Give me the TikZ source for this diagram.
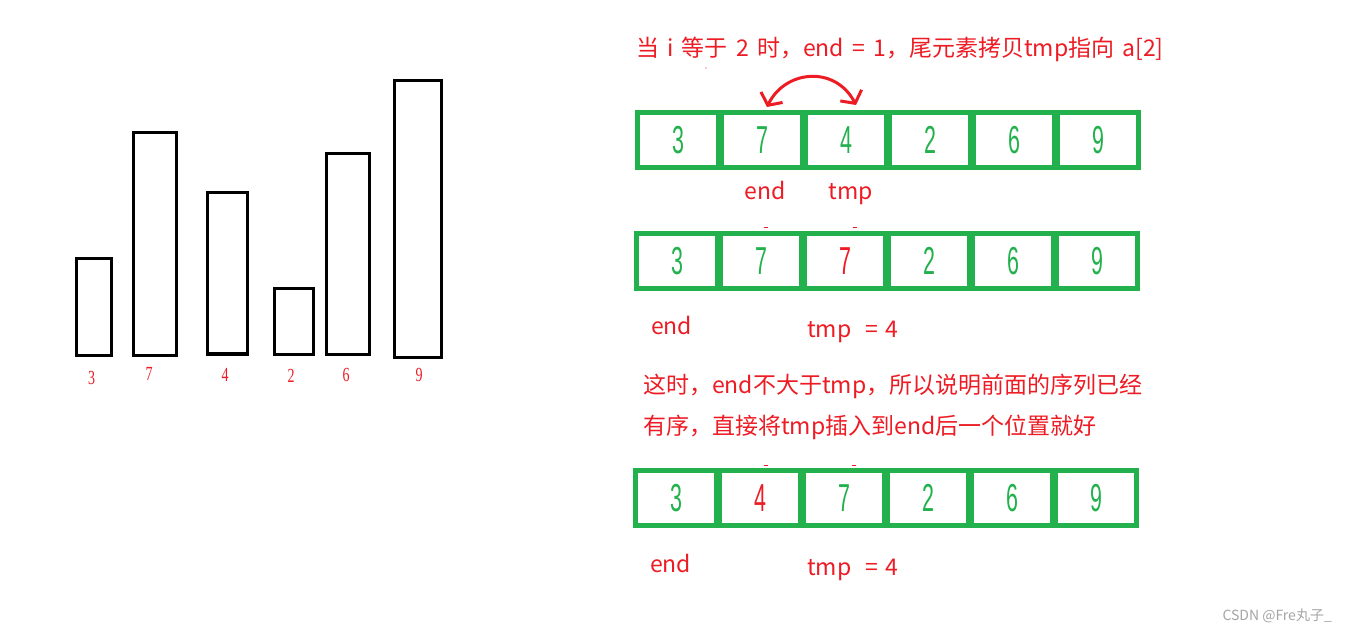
\documentclass[tikz,border=0pt]{standalone}
\usepackage{fontspec}
\setmainfont{Noto Sans CJK SC}
\newfontfamily\serifdg{Liberation Serif}
\newfontfamily\sansdg{Liberation Sans}
\usetikzlibrary{arrows.meta}
\definecolor{pred}{RGB}{237,28,36}
\definecolor{pgreen}{RGB}{34,177,76}
\definecolor{wmgray}{RGB}{165,165,165}
\newcommand{\dg}[1]{\scalebox{0.55}[1]{\fontsize{39}{39}\sansdg #1}}
\newcommand{\bl}[1]{\scalebox{0.7}[1]{\fontsize{20}{20}\serifdg #1}}
\newcommand{\widesp}{\spaceskip=8.2pt\relax}
\begin{document}
\begin{tikzpicture}[x=1pt,y=-1pt,
  bar/.style={draw=black, line width=3pt},
  cell/.style={draw=pgreen, line width=5pt, minimum width=81pt, minimum height=55pt, inner sep=0pt, text=pgreen},
  barlbl/.style={text=pred, inner sep=0pt},
  note/.style={text=pred, inner sep=0pt, font=\fontsize{23}{23}\selectfont},
  tick/.style={draw=pred, line width=1.5pt}]
\useasboundingbox (0,0) rectangle (1346,631);
\fill[white] (0,0) rectangle (1346,631);

% bars
\draw[bar] (76.5,258.8) rectangle (111.8,355.8);
\draw[black, line width=2pt] (75,356.3) -- (113.3,356.3);
\draw[bar] (133.2,132.5) rectangle (176.5,355.8);
\draw[bar, line width=3.5pt] (207.7,192.5) rectangle (247.5,353.9);
\draw[bar] (274.8,288.8) rectangle (313.2,354.2);
\draw[bar] (326.8,153.5) rectangle (369.5,354.2);
\draw[bar] (394.8,80.8) rectangle (441.8,357.5);

% bar labels
\node[barlbl] (b3) at (91.7,378) {\bl{3}};
\node[barlbl] (b7) at (149,374) {\bl{7}};
\node[barlbl] (b4) at (225,375) {\bl{4}};
\node[barlbl] (b2) at (291,376) {\bl{2}};
\node[barlbl] (b6) at (346,375) {\bl{6}};
\node[barlbl] (b9) at (419,375) {\bl{9}};

% title
\node[note, anchor=base west] (title) at (636,57) {\widesp 当 i 等于 2 时，end = 1，尾元素拷贝tmp指向 a[2]};
\fill[pred] (706,68) circle (0.7pt);

% row 1
\foreach \d [count=\i from 0] in {3,7,4,2,6,9}
  \node[cell] (r1c\i) at ({678+84*\i},140) {\dg{\d}};
\coordinate (a1) at (767,107);
\coordinate (a2) at (856,105);
\draw[pred, line width=3pt, line cap=round,
  {Straight Barb[length=9pt,width=24pt,line width=3pt]}-{Straight Barb[length=9pt,width=24pt,line width=3pt]}]
  (a1) .. controls (785,70) and (835,65) .. (a2);
\node[note, anchor=base] (end1) at (765,200) {end};
\node[note, anchor=base] (tmp1) at (851,200) {tmp};

% row 2
\foreach \d [count=\i from 0] in {3,7,{\color{pred}7},2,6,9}
  \node[cell] (r2c\i) at ({677+84*\i},261) {\dg{\d}};
\draw[tick] (763.6,227.3) -- (768,227.3);
\draw[tick] (852.6,227.3) -- (857,227.3);
\node[note, anchor=base west] (end2) at (651,334) {end};
\node[note, anchor=base west] (tmp2) at (807,337) {tmp\hspace{14pt}=\hspace{7pt}4};

% explanation
\node[note, anchor=base west] (exp1) at (643,393) {这时，end不大于tmp，所以说明前面的序列已经};
\node[note, anchor=base west] (exp2) at (643,434) {有序，直接将tmp插入到end后一个位置就好};

% row 3
\foreach \d [count=\i from 0] in {3,{\color{pred}4},7,2,6,9}
  \node[cell] (r3c\i) at ({676+84*\i},498) {\dg{\d}};
\draw[tick] (763.6,465.3) -- (768,465.3);
\draw[tick] (851.5,465.3) -- (856,465.3);
\node[note, anchor=base west] (end3) at (650,572) {end};
\node[note, anchor=base west] (tmp3) at (807,575) {tmp\hspace{14pt}=\hspace{7pt}4};

% watermark
\node[text=wmgray, anchor=base east, inner sep=0pt, font=\fontsize{14}{14}\selectfont] (wm) at (1332,620) {CSDN @Fre丸子\_};
\end{tikzpicture}
\end{document}
